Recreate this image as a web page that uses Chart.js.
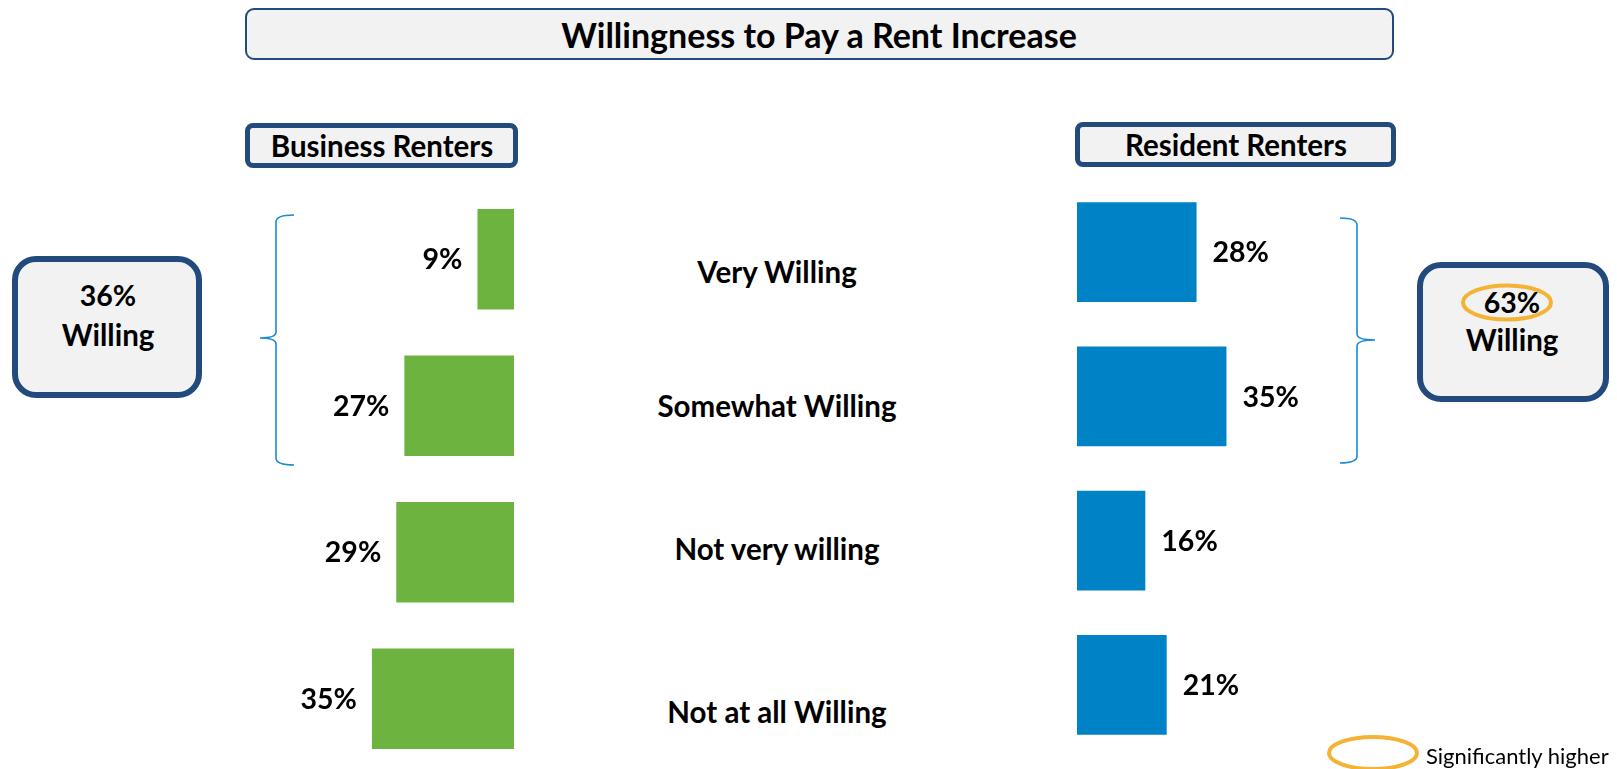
<!DOCTYPE html>
<html>
<head>
<meta charset="utf-8">
<script src="https://cdn.jsdelivr.net/npm/chart.js@4.4.1/dist/chart.umd.min.js"></script>
<style>
  html, body { margin: 0; padding: 0; background: #fff; overflow: hidden; }
  #stage { position: relative; width: 1617px; height: 769px; font-family: Lato, "Open Sans", sans-serif; }
  .chartWrap { position: absolute; }
  .box { position: absolute; box-sizing: border-box; background: #f2f2f2; border: 5px solid #224a7d; }
  .txt { position: absolute; transform: translate(-50%, -50%); white-space: nowrap; line-height: 1; font-weight: bold; font-size: 29.5px; color: #000; }
  svg { position: absolute; left: 0; top: 0; }
</style>
</head>
<body>
<div id="stage">
  <div class="chartWrap" style="left:108px; top:186px; width:406px; height:586px;"><canvas id="businessChart"></canvas></div>
  <div class="chartWrap" style="left:1077px; top:180px; width:427px; height:577px;"><canvas id="residentChart"></canvas></div>

  <div class="box" style="left:245px; top:8px; width:1149px; height:52px; border-width:2px; border-radius:9px;"></div>
  <div class="txt" style="left:819px; top:35px; font-size:34px;">Willingness to Pay a Rent Increase</div>

  <div class="box" style="left:245px; top:123px; width:273px; height:45px; border-radius:8px;"></div>
  <div class="txt" style="left:382px; top:146px;">Business Renters</div>
  <div class="box" style="left:1075px; top:122px; width:321px; height:45px; border-radius:8px;"></div>
  <div class="txt" style="left:1236px; top:145px;">Resident Renters</div>

  <div class="box" style="left:12px; top:256px; width:190px; height:142px; border-width:6px; border-radius:24px;"></div>
  <div class="txt" style="left:108px; top:295px; font-size:28.5px;">36%</div>
  <div class="txt" style="left:108px; top:335px;">Willing</div>

  <div class="box" style="left:1417px; top:262px; width:192px; height:140px; border-width:6px; border-radius:24px;"></div>
  <div class="txt" style="left:1512px; top:302px; font-size:28.5px;">63%</div>
  <div class="txt" style="left:1512px; top:340px;">Willing</div>

  <div id="catLabels"></div>

  <svg width="1617" height="769">
    <path d="M294,215 Q276,215 276,222 L276,332 Q276,338 260,338 Q276,338 276,344 L276,458 Q276,465 294,465" fill="none" stroke="#1a8ad4" stroke-width="1.6"/>
    <path d="M1340,218 Q1357,218 1357,225 L1357,334 Q1357,340 1375,340 Q1357,340 1357,346 L1357,456 Q1357,463 1340,463" fill="none" stroke="#1a8ad4" stroke-width="1.6"/>
    <ellipse cx="1507" cy="302.5" rx="44" ry="17" fill="none" stroke="#f5b335" stroke-width="4"/>
    <ellipse cx="1373" cy="753" rx="44" ry="16" fill="none" stroke="#f5b335" stroke-width="4"/>
  </svg>
  <div class="txt" style="left:1426px; top:756px; transform:translate(0,-50%); font-weight:normal; font-size:22px;">Significantly higher</div>
</div>

<script>
// data
const categories = ["Very Willing", "Somewhat Willing", "Not very willing", "Not at all Willing"];
const businessRenters = [9, 27, 29, 35];
const residentRenters = [28, 35, 16, 21];

// category labels sit between the two charts
const catY = [272, 406, 549, 712];
const catBox = document.getElementById("catLabels");
categories.forEach((c, i) => {
  const d = document.createElement("div");
  d.className = "txt";
  d.style.left = "777px";
  d.style.top = catY[i] + "px";
  d.textContent = c;
  catBox.appendChild(d);
});

// draws "NN%" next to the end of each bar
const valueLabels = {
  id: "valueLabels",
  afterDatasetsDraw(chart, args, opts) {
    const ctx = chart.ctx;
    const meta = chart.getDatasetMeta(0);
    const values = chart.data.datasets[0].data;
    ctx.save();
    ctx.font = "bold 28.5px Lato";
    ctx.fillStyle = "#000";
    ctx.textBaseline = "middle";
    ctx.textAlign = opts.side === "left" ? "right" : "left";
    meta.data.forEach((bar, i) => {
      const x = opts.side === "left" ? bar.x - opts.gap : bar.x + opts.gap;
      ctx.fillText(values[i] + "%", x, bar.y + 1);
    });
    ctx.restore();
  },
};

function makeChart(id, values, color, reverse, catPct, side, gap) {
  return new Chart(document.getElementById(id), {
    type: "bar",
    data: {
      labels: categories,
      datasets: [
        {
          data: values,
          backgroundColor: color,
          borderWidth: 0,
          barPercentage: 1,
          categoryPercentage: catPct,
        },
      ],
    },
    options: {
      indexAxis: "y",
      responsive: true,
      maintainAspectRatio: false,
      animation: false,
      layout: { padding: 0 },
      plugins: {
        legend: { display: false },
        tooltip: { enabled: false },
        valueLabels: { side: side, gap: gap },
      },
      scales: {
        x: { display: false, reverse: reverse, min: 0, max: 100 },
        y: { display: false },
      },
    },
    plugins: [valueLabels],
  });
}

makeChart("businessChart", businessRenters, "#6db33f", true, 0.685, "left", 15);
makeChart("residentChart", residentRenters, "#0082c6", false, 0.693, "right", 16);
</script>
</body>
</html>
